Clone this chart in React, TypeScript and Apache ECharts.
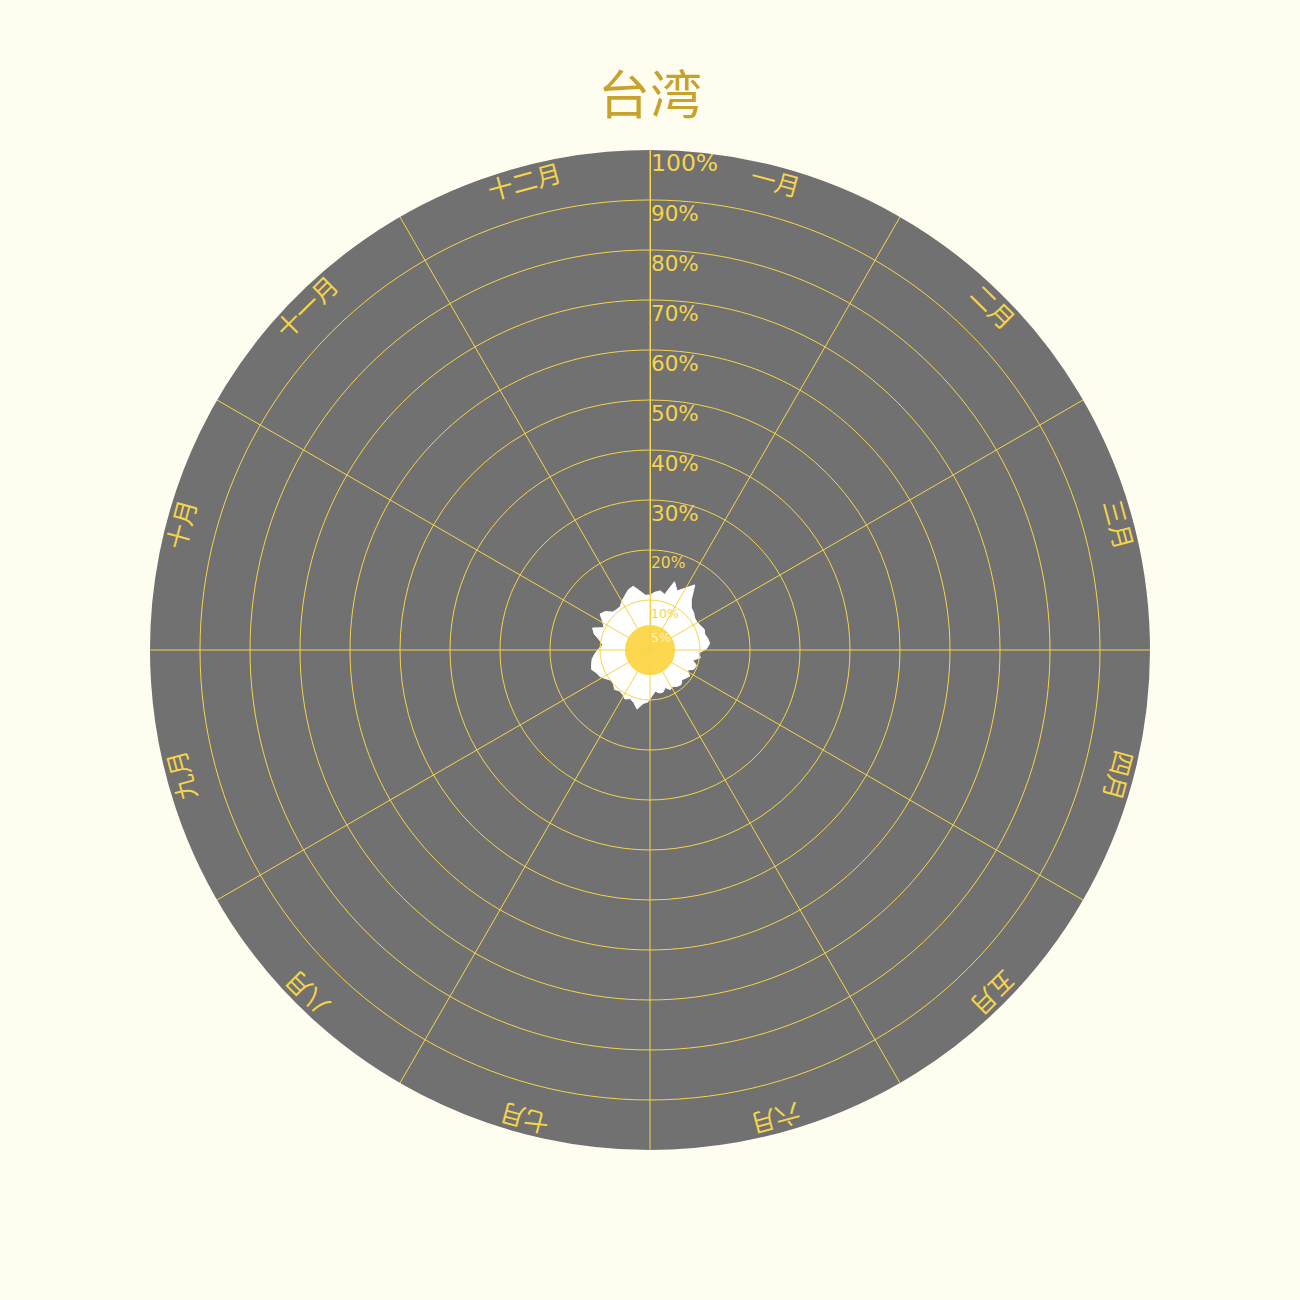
import React, { useEffect, useRef } from "react";
import * as echarts from "echarts";

const TITLE = "台湾";
const MONTHS = ["一月", "二月", "三月", "四月", "五月", "六月", "七月", "八月", "九月", "十月", "十一月", "十二月"];
const CORE_VALUES = [5, 5, 5, 5, 5, 5, 5, 5, 5, 5, 5, 5];
const CORE_TICK = 5;
const MONTH_LABEL_R = [97.3, 97.3, 97.3, 97.3, 97.3, 97.3, 97.3, 97.3, 97.3, 97.3, 97.3, 97.3];
const DAYS = [0, 5, 10, 15, 20, 25, 30, 35, 40, 45, 50, 55, 60, 65, 70, 75, 80, 85, 90, 95, 100, 105, 110, 115, 120, 125, 130, 135, 140, 145, 150, 155, 160, 165, 170, 175, 180, 185, 190, 195, 200, 205, 210, 215, 220, 225, 230, 235, 240, 245, 250, 255, 260, 265, 270, 275, 280, 285, 290, 295, 300, 305, 310, 315, 320, 325, 330, 335, 340, 345, 350, 355, 360, 365];
const VALUES = [11, 11.6, 12, 11.5, 14.5, 13, 14.2, 15.8, 13, 11.8, 11.5, 11, 10.9, 11.2, 11.6, 11.4, 11.8, 12, 11.3, 9.7, 10.2, 8.8, 9.8, 9.6, 8.5, 9.5, 9.1, 8.7, 9.3, 9.1, 8.6, 8.9, 8.1, 8.8, 8.8, 8.3, 9.2, 10.4, 10.8, 12.1, 11, 10.5, 11, 10.4, 10.2, 10.6, 10, 9.8, 10.5, 11.3, 11.6, 12.3, 12, 11.7, 11, 10.3, 9.5, 10.3, 11.6, 12.3, 10.2, 11, 12.3, 11.8, 10.6, 10.5, 10.5, 11.3, 12, 12.8, 13.2, 12, 11, 11];

const BG = "#fffdf0";
const GRAY = "#717171";
const YELLOW = "#f6d44a";
const TITLE_COLOR = "#c9a22e";
const CJK = "'Noto Sans CJK SC', sans-serif";
const NUM = "'DejaVu Sans', sans-serif";

const RING_COLORS = [YELLOW, YELLOW, YELLOW, YELLOW, YELLOW, YELLOW, YELLOW, YELLOW, YELLOW, YELLOW, "rgba(0,0,0,0)"];

export default function App() {
  const ref = useRef<HTMLDivElement>(null);
  useEffect(() => {
    if (!ref.current) return;
    const chart = echarts.init(ref.current, null, { renderer: "svg" });
    const sizeKey = (v: number) => (v >= 100 ? "xl" : v >= 30 ? "l" : v >= 20 ? "m" : "s");
    const rich = {
      xl: { fontSize: 23.5, lineHeight: 26, color: YELLOW, fontFamily: NUM },
      l: { fontSize: 21.5, lineHeight: 26, color: YELLOW, fontFamily: NUM },
      m: { fontSize: 15.5, lineHeight: 26, color: YELLOW, fontFamily: NUM },
      s: { fontSize: 12.5, lineHeight: 26, color: YELLOW, fontFamily: NUM },
    };
    chart.setOption({
      animation: false,
      backgroundColor: BG,
      title: {
        text: TITLE,
        left: "center",
        top: 60,
        textStyle: { color: TITLE_COLOR, fontSize: 52, fontWeight: "normal", fontFamily: CJK },
      },
      polar: [
        { center: ["50%", "50%"], radius: 500 },
        { center: ["50%", "50%"], radius: 500 },
      ],
      angleAxis: [
        {
          polarIndex: 0,
          type: "category",
          data: MONTHS,
          startAngle: 90,
          boundaryGap: true,
          z: 5,
          axisLine: { show: false },
          axisTick: { show: false },
          axisLabel: { show: false },
          splitLine: { show: true, lineStyle: { color: YELLOW, width: 1 } },
          splitArea: { show: false },
        },
        {
          polarIndex: 1,
          type: "value",
          min: 0,
          max: 365,
          startAngle: 90,
          z: 0,
          axisLine: { show: false },
          axisTick: { show: false },
          axisLabel: { show: false },
          splitLine: { show: false },
          splitArea: { show: true, areaStyle: { color: [GRAY] } },
        },
      ],
      radiusAxis: [
        {
          polarIndex: 0,
          type: "value",
          min: 0,
          max: 100,
          interval: 10,
          angle: 90,
          z: 5,
          axisLine: { show: true, lineStyle: { color: YELLOW, width: 1 } },
          axisTick: { show: false },
          splitLine: { show: true, lineStyle: { color: RING_COLORS, width: 1 } },
          axisLabel: {
            show: true,
            inside: true,
            margin: -1,
            align: "left",
            verticalAlign: "top",
            color: YELLOW,
            formatter: (v: number) => (v === 0 ? "" : `{${sizeKey(v)}|${v}%}`),
            rich,
          },
        },
        {
          polarIndex: 1,
          type: "value",
          min: 0,
          max: 100,
          interval: CORE_TICK,
          angle: 90,
          z: 7,
          axisLine: { show: false },
          axisTick: { show: false },
          splitLine: { show: false },
          axisLabel: {
            show: true,
            inside: true,
            margin: -1,
            align: "left",
            verticalAlign: "top",
            color: YELLOW,
            formatter: (v: number) => (v === CORE_TICK ? `{c|${v}%}` : ""),
            rich: {
              c: { fontSize: 12.5, lineHeight: 24, color: "#fff3c0", fontFamily: NUM },
            },
          },
        },
      ],
      series: [
        {
          type: "line",
          coordinateSystem: "polar",
          polarIndex: 1,
          data: DAYS.map((d, i) => [VALUES[i], d]),
          showSymbol: false,
          symbol: "none",
          smooth: false,
          lineStyle: { color: "#ffffff", width: 1 },
          areaStyle: { color: "#ffffff", opacity: 1 },
          z: 2,
        },
        {
          type: "bar",
          coordinateSystem: "polar",
          polarIndex: 0,
          data: CORE_VALUES,
          barCategoryGap: "0%",
          itemStyle: { color: "#fdd84e" },
          z: 3,
        },
        {
          type: "custom",
          coordinateSystem: "polar",
          polarIndex: 0,
          z: 6,
          data: MONTH_LABEL_R.map((r, i) => [r, i]),
          renderItem: (params: any, api: any) => {
            const r = api.value(0);
            const idx = api.value(1);
            const p = api.coord([r, idx]);
            const cs = params.coordSys;
            const theta = Math.atan2(p[0] - cs.cx, -(p[1] - cs.cy));
            return {
              type: "text",
              x: p[0],
              y: p[1],
              rotation: -theta,
              style: {
                text: MONTHS[idx],
                x: 0,
                y: 0,
                fill: YELLOW,
                fontSize: 25,
                fontFamily: CJK,
                align: "center",
                verticalAlign: "middle",
              },
            };
          },
        },
      ],
    });
    return () => chart.dispose();
  }, []);
  return <div ref={ref} style={{ position: "absolute", left: 0, top: 0, width: 1300, height: 1300 }} />;
}
